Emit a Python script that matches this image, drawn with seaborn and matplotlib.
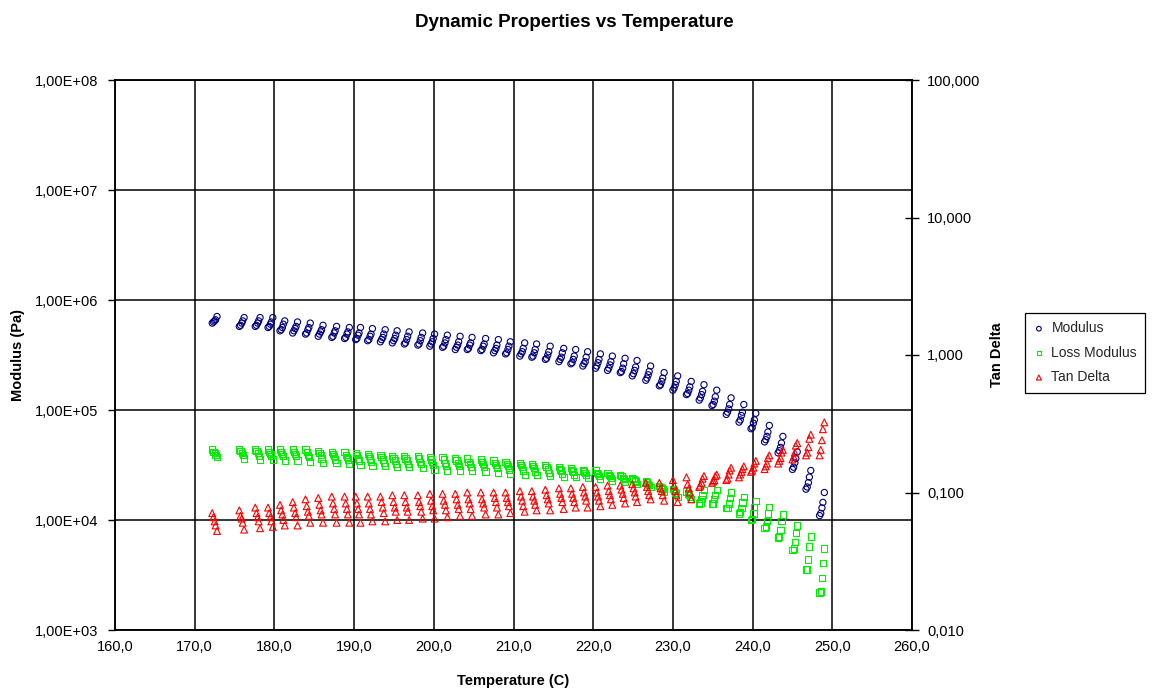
import numpy as np
import pandas as pd
import matplotlib
matplotlib.use("Agg")
import matplotlib.pyplot as plt
import seaborn as sns
from matplotlib.ticker import FixedLocator, FuncFormatter, NullLocator

# Temperature (C) at each frequency sweep, and the small temperature drift within a sweep
sweep_temps = [172.5, 175.9, 177.9, 179.5, 181.0, 182.6, 184.2, 185.8, 187.5, 189.1,
               190.5, 192.0, 193.6, 195.1, 196.6, 198.3, 199.8, 201.4, 203.0, 204.5,
               206.2, 207.8, 209.3, 211.1, 212.6, 214.3, 216.0, 217.5, 219.0, 220.6,
               222.1, 223.7, 225.2, 226.9, 228.6, 230.3, 232.0, 233.6, 235.2, 237.0,
               238.6, 240.1, 241.8, 243.5, 245.3, 247.0, 248.7]
sweep_offset = [-0.30, -0.15, 0.0, 0.12, 0.30]

# log10 of Modulus (Pa), five points per sweep
modulus_log10 = [
    [5.79, 5.80, 5.81, 5.82, 5.85], [5.76, 5.77, 5.79, 5.81, 5.84], [5.76, 5.77, 5.79, 5.81, 5.84],
    [5.75, 5.76, 5.78, 5.80, 5.84], [5.72, 5.73, 5.75, 5.78, 5.81], [5.70, 5.72, 5.74, 5.76, 5.80],
    [5.69, 5.70, 5.73, 5.75, 5.79], [5.67, 5.69, 5.71, 5.73, 5.77], [5.66, 5.67, 5.70, 5.72, 5.76],
    [5.65, 5.66, 5.69, 5.71, 5.75], [5.64, 5.65, 5.68, 5.70, 5.75], [5.63, 5.64, 5.67, 5.69, 5.74],
    [5.62, 5.64, 5.66, 5.69, 5.73], [5.61, 5.63, 5.65, 5.68, 5.72], [5.60, 5.61, 5.64, 5.67, 5.71],
    [5.59, 5.60, 5.63, 5.66, 5.70], [5.58, 5.60, 5.62, 5.65, 5.69], [5.57, 5.58, 5.61, 5.64, 5.68],
    [5.55, 5.57, 5.59, 5.62, 5.67], [5.55, 5.56, 5.59, 5.61, 5.66], [5.54, 5.55, 5.58, 5.60, 5.65],
    [5.52, 5.54, 5.56, 5.59, 5.64], [5.51, 5.52, 5.55, 5.58, 5.62], [5.49, 5.51, 5.53, 5.56, 5.61],
    [5.48, 5.49, 5.52, 5.55, 5.60], [5.46, 5.47, 5.50, 5.53, 5.58], [5.44, 5.46, 5.48, 5.52, 5.56],
    [5.42, 5.43, 5.46, 5.49, 5.55], [5.40, 5.42, 5.44, 5.48, 5.53], [5.38, 5.40, 5.43, 5.46, 5.51],
    [5.36, 5.38, 5.41, 5.44, 5.49], [5.34, 5.35, 5.38, 5.42, 5.47], [5.31, 5.33, 5.36, 5.39, 5.45],
    [5.27, 5.29, 5.32, 5.35, 5.40], [5.22, 5.23, 5.26, 5.29, 5.34], [5.18, 5.20, 5.23, 5.26, 5.31],
    [5.14, 5.15, 5.18, 5.21, 5.26], [5.09, 5.11, 5.14, 5.17, 5.23], [5.04, 5.05, 5.08, 5.12, 5.18],
    [4.96, 4.98, 5.01, 5.05, 5.11], [4.89, 4.91, 4.95, 4.98, 5.05], [4.83, 4.84, 4.88, 4.91, 4.97],
    [4.71, 4.73, 4.76, 4.80, 4.86], [4.61, 4.63, 4.66, 4.70, 4.76], [4.46, 4.48, 4.52, 4.56, 4.62],
    [4.28, 4.30, 4.34, 4.39, 4.45], [4.04, 4.06, 4.11, 4.16, 4.25],
]

# log10 of Loss Modulus (Pa)
loss_modulus_log10 = [
    [4.64, 4.62, 4.61, 4.59, 4.57], [4.64, 4.63, 4.61, 4.59, 4.56], [4.64, 4.63, 4.61, 4.58, 4.55],
    [4.64, 4.62, 4.60, 4.58, 4.55], [4.64, 4.62, 4.60, 4.58, 4.54], [4.64, 4.62, 4.60, 4.58, 4.54],
    [4.64, 4.62, 4.59, 4.57, 4.53], [4.63, 4.61, 4.59, 4.56, 4.52], [4.62, 4.60, 4.58, 4.55, 4.52],
    [4.62, 4.59, 4.57, 4.55, 4.51], [4.61, 4.59, 4.56, 4.54, 4.50], [4.60, 4.58, 4.56, 4.53, 4.49],
    [4.59, 4.57, 4.55, 4.52, 4.49], [4.58, 4.56, 4.54, 4.51, 4.48], [4.58, 4.56, 4.54, 4.51, 4.48],
    [4.58, 4.56, 4.53, 4.51, 4.47], [4.57, 4.55, 4.53, 4.50, 4.46], [4.57, 4.55, 4.52, 4.49, 4.45],
    [4.56, 4.54, 4.52, 4.49, 4.45], [4.56, 4.53, 4.51, 4.48, 4.45], [4.55, 4.53, 4.51, 4.48, 4.44],
    [4.54, 4.52, 4.50, 4.47, 4.43], [4.53, 4.51, 4.49, 4.46, 4.42], [4.52, 4.50, 4.48, 4.45, 4.41],
    [4.51, 4.49, 4.47, 4.44, 4.41], [4.50, 4.48, 4.46, 4.43, 4.40], [4.48, 4.46, 4.45, 4.42, 4.39],
    [4.47, 4.45, 4.44, 4.41, 4.39], [4.45, 4.44, 4.43, 4.41, 4.38], [4.45, 4.43, 4.42, 4.40, 4.37],
    [4.43, 4.41, 4.40, 4.38, 4.36], [4.41, 4.40, 4.38, 4.37, 4.35], [4.38, 4.37, 4.36, 4.35, 4.33],
    [4.35, 4.34, 4.33, 4.32, 4.30], [4.31, 4.30, 4.29, 4.28, 4.26], [4.28, 4.27, 4.25, 4.24, 4.21],
    [4.26, 4.24, 4.23, 4.21, 4.19], [4.15, 4.16, 4.19, 4.23, 4.27], [4.15, 4.15, 4.19, 4.23, 4.27],
    [4.11, 4.11, 4.15, 4.20, 4.25], [4.06, 4.07, 4.11, 4.16, 4.21], [4.00, 4.01, 4.06, 4.12, 4.17],
    [3.93, 3.94, 3.99, 4.06, 4.12], [3.84, 3.85, 3.91, 3.99, 4.05], [3.73, 3.74, 3.80, 3.88, 3.95],
    [3.55, 3.55, 3.64, 3.76, 3.85], [3.34, 3.35, 3.47, 3.61, 3.74],
]

# log10 of Tan Delta
tan_delta_log10 = [
    [-1.15, -1.18, -1.21, -1.24, -1.28], [-1.13, -1.17, -1.19, -1.22, -1.27], [-1.11, -1.15, -1.18, -1.21, -1.26],
    [-1.11, -1.15, -1.18, -1.21, -1.25], [-1.09, -1.13, -1.16, -1.20, -1.24], [-1.07, -1.11, -1.15, -1.18, -1.24],
    [-1.05, -1.10, -1.14, -1.17, -1.22], [-1.04, -1.09, -1.13, -1.16, -1.22], [-1.03, -1.08, -1.12, -1.16, -1.22],
    [-1.03, -1.08, -1.12, -1.16, -1.22], [-1.03, -1.08, -1.12, -1.16, -1.22], [-1.03, -1.08, -1.12, -1.16, -1.21],
    [-1.03, -1.07, -1.11, -1.15, -1.21], [-1.02, -1.07, -1.11, -1.14, -1.20], [-1.02, -1.07, -1.11, -1.14, -1.20],
    [-1.02, -1.07, -1.10, -1.14, -1.19], [-1.01, -1.06, -1.10, -1.13, -1.19], [-1.01, -1.06, -1.09, -1.13, -1.18],
    [-1.01, -1.05, -1.09, -1.12, -1.17], [-1.00, -1.05, -1.08, -1.12, -1.17], [-1.00, -1.05, -1.08, -1.11, -1.16],
    [-1.00, -1.04, -1.07, -1.11, -1.16], [-1.00, -1.04, -1.07, -1.10, -1.15], [-0.99, -1.03, -1.06, -1.10, -1.14],
    [-0.99, -1.03, -1.06, -1.09, -1.13], [-0.98, -1.02, -1.05, -1.08, -1.13], [-0.97, -1.01, -1.04, -1.07, -1.12],
    [-0.97, -1.01, -1.04, -1.07, -1.11], [-0.96, -1.00, -1.03, -1.06, -1.11], [-0.96, -1.00, -1.03, -1.06, -1.10],
    [-0.95, -0.99, -1.02, -1.05, -1.09], [-0.95, -0.98, -1.01, -1.04, -1.08], [-0.94, -0.97, -1.00, -1.03, -1.07],
    [-0.93, -0.96, -0.99, -1.02, -1.05], [-0.93, -0.97, -0.99, -1.02, -1.06], [-0.91, -0.95, -0.99, -1.02, -1.07],
    [-0.89, -0.94, -0.97, -1.00, -1.05], [-0.96, -0.95, -0.93, -0.90, -0.88], [-0.93, -0.92, -0.91, -0.88, -0.87],
    [-0.91, -0.90, -0.87, -0.84, -0.82], [-0.89, -0.87, -0.85, -0.83, -0.81], [-0.85, -0.84, -0.82, -0.79, -0.77],
    [-0.83, -0.81, -0.79, -0.75, -0.73], [-0.79, -0.77, -0.75, -0.71, -0.69], [-0.76, -0.74, -0.71, -0.66, -0.64],
    [-0.73, -0.71, -0.67, -0.61, -0.58], [-0.73, -0.69, -0.62, -0.54, -0.49],
]

x_ticks = [160, 170, 180, 190, 200, 210, 220, 230, 240, 250, 260]
left_ticks = [1e3, 1e4, 1e5, 1e6, 1e7, 1e8]
right_ticks = [0.01, 0.1, 1, 10, 100]

rows = []
for i, t in enumerate(sweep_temps):
    for k, dt in enumerate(sweep_offset):
        rows.append({"Temperature": t + dt,
                     "Modulus": 10 ** modulus_log10[i][k],
                     "Loss Modulus": 10 ** loss_modulus_log10[i][k],
                     "Tan Delta": 10 ** tan_delta_log10[i][k]})
df = pd.DataFrame(rows)

sns.set_theme(style="white")
plt.rcParams['font.family'] = ['Liberation Sans', 'DejaVu Sans']

W, H = 1154, 693
fig = plt.figure(figsize=(W / 100, H / 100), dpi=100)
ax = fig.add_axes([115 / W, 63 / H, 797 / W, 550 / H])

sns.scatterplot(data=df, x="Temperature", y="Modulus", ax=ax, marker="o", s=20,
                facecolors="none", edgecolor="#000080", linewidth=0.8,
                label="Modulus", legend=False, zorder=3)
sns.scatterplot(data=df, x="Temperature", y="Loss Modulus", ax=ax, marker="s", s=20,
                facecolors="none", edgecolor="#00EE00", linewidth=0.8,
                label="Loss Modulus", legend=False, zorder=3)

ax.set_yscale("log")
ax.set_xlim(160, 260)
ax.set_ylim(1e3, 1e8)
ax.xaxis.set_major_locator(FixedLocator(x_ticks))
ax.yaxis.set_major_locator(FixedLocator(left_ticks))
ax.yaxis.set_minor_locator(NullLocator())
ax.xaxis.set_major_formatter(FuncFormatter(lambda v, p: f"{v:.1f}".replace(".", ",")))
ax.yaxis.set_major_formatter(FuncFormatter(lambda v, p: f"{v:.2E}".replace(".", ",")))
ax.grid(True, which="major", color="black", linewidth=1.1)
ax.set_axisbelow(True)
ax.tick_params(axis="both", direction="out", length=5, width=1, color="black",
               labelsize=10.5, labelcolor="black")
ax.tick_params(axis="y", pad=7)
ax.tick_params(axis="x", pad=2)
for sp in ax.spines.values():
    sp.set_color("black")
    sp.set_linewidth(1.1)

ax2 = ax.twinx()
sns.scatterplot(data=df, x="Temperature", y="Tan Delta", ax=ax2, marker="^", s=24,
                facecolors="none", edgecolor="#FF0000", linewidth=0.8,
                label="Tan Delta", legend=False, zorder=3)
ax2.set_yscale("log")
ax2.set_ylim(0.01, 100)
ax2.yaxis.set_major_locator(FixedLocator(right_ticks))
ax2.yaxis.set_minor_locator(NullLocator())
ax2.yaxis.set_major_formatter(FuncFormatter(lambda v, p: f"{v:.3f}".replace(".", ",")))
ax2.grid(False)
ax2.tick_params(axis="y", direction="inout", length=10, width=1, color="black",
                labelsize=10.5, labelcolor="black", pad=6)
for sp in ax2.spines.values():
    sp.set_color("black")
    sp.set_linewidth(1.1)

ax.set_xlabel("Temperature (C)", fontsize=10.5, fontweight="bold", color="black")
ax.set_ylabel("Modulus (Pa)", fontsize=10.5, fontweight="bold", color="black")
ax2.set_ylabel("Tan Delta", fontsize=10.5, fontweight="bold", color="black")
ax.xaxis.set_label_coords(0.5, -0.080)
ax.yaxis.set_label_coords(-0.113, 0.5)
ax2.yaxis.set_label_coords(1.098, 0.5)

fig.text(0.498, 0.968, "Dynamic Properties vs Temperature", ha="center", va="center",
         fontsize=13.5, fontweight="bold", color="black")

h1, l1 = ax.get_legend_handles_labels()
h2, l2 = ax2.get_legend_handles_labels()
leg = fig.legend(h1 + h2, l1 + l2, loc="upper left",
                 bbox_to_anchor=(1025 / W, 1 - 313 / H), frameon=True, fancybox=False,
                 edgecolor="black", framealpha=1, fontsize=10, markerscale=0.75,
                 handlelength=0.8, handletextpad=0.5, borderpad=0.6, labelspacing=0.75,
                 borderaxespad=0)
leg.get_frame().set_linewidth(0.9)

fig.savefig("out.png", dpi=100)
